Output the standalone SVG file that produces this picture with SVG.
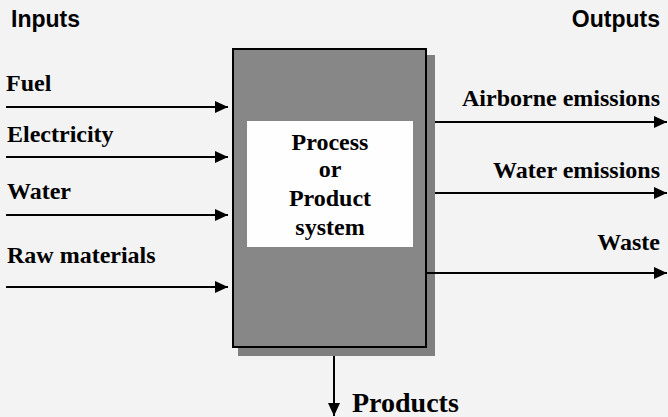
<svg xmlns="http://www.w3.org/2000/svg" width="668" height="417" viewBox="0 0 668 417">
<defs>
<style>
.lbl{font-family:"Liberation Serif","Times New Roman",serif;font-weight:bold;font-size:24px;fill:#000}
.hd{font-family:"Liberation Sans",Arial,sans-serif;font-weight:bold;font-size:23px;fill:#000}
.ln{stroke:#000;stroke-width:2;fill:none}
</style>
<marker id="ah" markerWidth="13" markerHeight="12" refX="13" refY="6" orient="auto" markerUnits="userSpaceOnUse">
<path d="M0,0 L13,6 L0,12 Z" fill="#000"/>
</marker>
</defs>
<rect x="0" y="0" width="668" height="417" fill="#f3f3f3"/>
<text class="hd" x="11" y="27">Inputs</text>
<text class="hd" x="660" y="27" text-anchor="end">Outputs</text>
<g id="process">
<rect x="238" y="55" width="197" height="301" fill="#7f7f7f"/>
<rect x="233" y="49" width="193" height="298" fill="#878787" stroke="#000" stroke-width="2"/>
<rect x="247" y="121" width="166" height="126" fill="#fefefe"/>
<text class="lbl" x="330" y="150" text-anchor="middle">Process</text>
<text class="lbl" x="330" y="177" text-anchor="middle">or</text>
<text class="lbl" x="330" y="206" text-anchor="middle">Product</text>
<text class="lbl" x="330" y="235" text-anchor="middle">system</text>
</g>
<g id="connectors">
<line class="ln" x1="6" y1="107" x2="228" y2="107" marker-end="url(#ah)"/>
<line class="ln" x1="6" y1="157" x2="228" y2="157" marker-end="url(#ah)"/>
<line class="ln" x1="6" y1="215" x2="228" y2="215" marker-end="url(#ah)"/>
<line class="ln" x1="6" y1="287" x2="228" y2="287" marker-end="url(#ah)"/>
<line class="ln" x1="435" y1="122" x2="667" y2="122" marker-end="url(#ah)"/>
<line class="ln" x1="435" y1="193" x2="667" y2="193" marker-end="url(#ah)"/>
<line class="ln" x1="427" y1="273" x2="667" y2="273" marker-end="url(#ah)"/>
<line class="ln" x1="334" y1="356" x2="334" y2="416" marker-end="url(#ah)"/>
</g>
<g id="in-fuel"><text class="lbl" x="6" y="91">Fuel</text></g>
<g id="in-electricity"><text class="lbl" x="7" y="142">Electricity</text></g>
<g id="in-water"><text class="lbl" x="7" y="199">Water</text></g>
<g id="in-raw"><text class="lbl" x="7" y="263">Raw materials</text></g>
<g id="out-air"><text class="lbl" x="660" y="106" text-anchor="end">Airborne emissions</text></g>
<g id="out-water"><text class="lbl" x="660" y="178" text-anchor="end">Water emissions</text></g>
<g id="out-waste"><text class="lbl" x="660" y="250" text-anchor="end">Waste</text></g>
<g id="products"><text class="lbl" x="352" y="412" style="font-size:28px">Products</text></g>
</svg>
